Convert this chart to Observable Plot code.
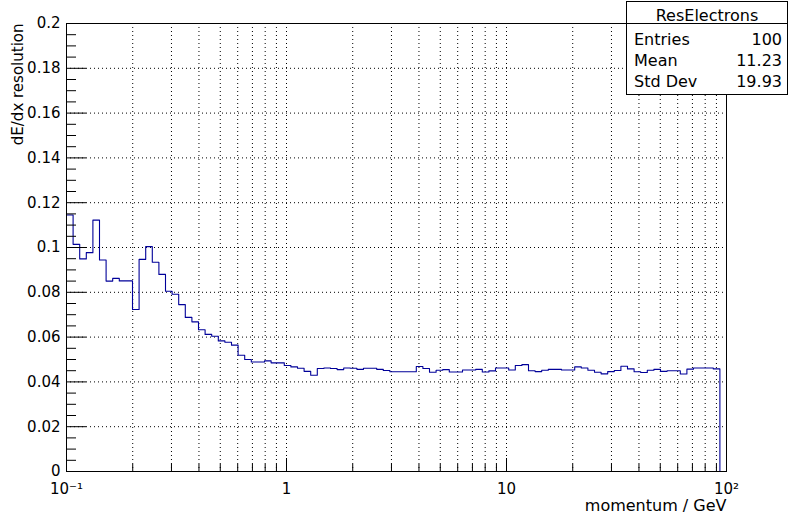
<!DOCTYPE html>
<html>
<head>
<meta charset="utf-8">
<script src="https://cdn.jsdelivr.net/npm/d3@7"></script>
<script src="https://cdn.jsdelivr.net/npm/@observablehq/plot@0.6"></script>
<style>
  html, body { margin: 0; padding: 0; background: #fff; }
  #chart { width: 788px; height: 514px; }
</style>
</head>
<body>
<div id="chart"></div>
<script>
// Histogram binning: 100 logarithmic bins from 0.1 to 100 GeV
const xMin = 0.1, xMax = 100, nBins = 100;

// dE/dx resolution per momentum bin
const resolution = [
  0.1145, 0.1014, 0.0949, 0.0977, 0.1122, 0.0944, 0.0850, 0.0862, 0.0851, 0.0851,
  0.0723, 0.0947, 0.1004, 0.0934, 0.0880, 0.0805, 0.0791, 0.0745, 0.0688, 0.0668,
  0.0633, 0.0612, 0.0604, 0.0583, 0.0577, 0.0564, 0.0519, 0.0500, 0.0489, 0.0489,
  0.0494, 0.0485, 0.0485, 0.0473, 0.0467, 0.0461, 0.0447, 0.0430, 0.0460, 0.0462,
  0.0460, 0.0455, 0.0462, 0.0461, 0.0456, 0.0461, 0.0461, 0.0456, 0.0451, 0.0445,
  0.0445, 0.0445, 0.0445, 0.0469, 0.0460, 0.0443, 0.0452, 0.0455, 0.0444, 0.0444,
  0.0453, 0.0453, 0.0456, 0.0444, 0.0449, 0.0462, 0.0462, 0.0453, 0.0473, 0.0477,
  0.0450, 0.0446, 0.0452, 0.0456, 0.0456, 0.0453, 0.0453, 0.0467, 0.0462, 0.0452,
  0.0443, 0.0436, 0.0446, 0.0451, 0.0470, 0.0458, 0.0445, 0.0442, 0.0452, 0.0456,
  0.0447, 0.0450, 0.0450, 0.0435, 0.0457, 0.0462, 0.0462, 0.0462, 0.0458, 0
];

// Axis ticks and labels
const xMajorTicks = [0.1, 1, 10, 100];
const xMajorLabels = ["10⁻¹", "1", "10", "10²"];
const xMinorTicks = [0.2, 0.3, 0.4, 0.5, 0.6, 0.7, 0.8, 0.9,
                     2, 3, 4, 5, 6, 7, 8, 9,
                     20, 30, 40, 50, 60, 70, 80, 90];
const yMajorTicks = [0, 0.02, 0.04, 0.06, 0.08, 0.1, 0.12, 0.14, 0.16, 0.18, 0.2];
const yMajorLabels = ["0", "0.02", "0.04", "0.06", "0.08", "0.1", "0.12", "0.14", "0.16", "0.18", "0.2"];
const yMinorTicks = [0.005, 0.01, 0.015, 0.025, 0.03, 0.035, 0.045, 0.05, 0.055,
                     0.065, 0.07, 0.075, 0.085, 0.09, 0.095, 0.105, 0.11, 0.115,
                     0.125, 0.13, 0.135, 0.145, 0.15, 0.155, 0.165, 0.17, 0.175,
                     0.185, 0.19, 0.195];

const xTitle = "momentum / GeV";
const yTitle = "dE/dx resolution";

// Statistics box
const statsTitle = "ResElectrons";
const statsNames = ["Entries", "Mean", "Std Dev"];
const statsValues = ["100", "11.23", "19.93"];

// Bin edges and the step outline of the histogram
const edges = d3.range(nBins + 1).map(k => xMin * Math.pow(xMax / xMin, k / nBins));
const outline = edges.map((x, k) => ({x, y: resolution[Math.min(k, nBins - 1)]}));

const xGrid = [...xMinorTicks, 1, 10];
const yGrid = yMajorTicks.filter(v => v > 0 && v < 0.2);
const grid = {stroke: "black", strokeWidth: 1, strokeDasharray: "1,3", strokeOpacity: 1};

const yLabel = v => yMajorLabels[yMajorTicks.indexOf(v)];
const xLabel = v => xMajorLabels[xMajorTicks.indexOf(v)];

const plot = Plot.plot({
  width: 788,
  height: 514,
  marginLeft: 66,
  marginRight: 62,
  marginTop: 23,
  marginBottom: 43,
  style: {fontFamily: "DejaVu Sans", fontSize: "15px", background: "white", color: "black"},
  x: {type: "log", domain: [xMin, xMax], label: null},
  y: {domain: [0, 0.2], label: null},
  marks: [
    Plot.ruleX(xGrid, grid),
    Plot.ruleY(yGrid, grid),
    Plot.line(outline, {x: "x", y: "y", curve: "step-after", stroke: "#000099", strokeWidth: 1.1}),
    Plot.axisY(yMinorTicks, {tickSize: -10, tickFormat: () => "", label: null}),
    Plot.axisY(yMajorTicks, {tickSize: -20, tickPadding: 26, tickFormat: yLabel, label: null}),
    Plot.axisX(xMinorTicks, {tickSize: -7, tickFormat: () => "", label: null}),
    Plot.axisX(xMajorTicks, {tickSize: -13, tickPadding: 25, tickFormat: xLabel, label: null}),
    Plot.frame({stroke: "black", strokeWidth: 1}),
    Plot.text([yTitle], {frameAnchor: "top-left", rotate: -90, textAnchor: "end",
                         lineAnchor: "middle", dx: -48, fontSize: 15}),
    Plot.text([xTitle], {frameAnchor: "bottom-right", textAnchor: "end",
                         lineAnchor: "middle", dy: 34, fontSize: 16})
  ]
});

// Statistics box in the top-right corner
const svg = d3.select(plot);
const box = svg.append("g")
  .attr("font-family", "DejaVu Sans")
  .attr("font-size", 16)
  .attr("fill", "black");
box.append("rect")
  .attr("x", 626.5).attr("y", 1.5)
  .attr("width", 161).attr("height", 93)
  .attr("fill", "white").attr("stroke", "black");
box.append("line")
  .attr("x1", 626.5).attr("x2", 787.5)
  .attr("y1", 23.5).attr("y2", 23.5)
  .attr("stroke", "black");
box.append("text")
  .attr("x", 707).attr("y", 20.5)
  .attr("text-anchor", "middle")
  .text(statsTitle);
statsNames.forEach((name, i) => {
  const y = 44.5 + i * 21;
  box.append("text").attr("x", 634).attr("y", y).attr("text-anchor", "start").text(name);
  box.append("text").attr("x", 782).attr("y", y).attr("text-anchor", "end").text(statsValues[i]);
});

document.getElementById("chart").appendChild(plot);
</script>
</body>
</html>
